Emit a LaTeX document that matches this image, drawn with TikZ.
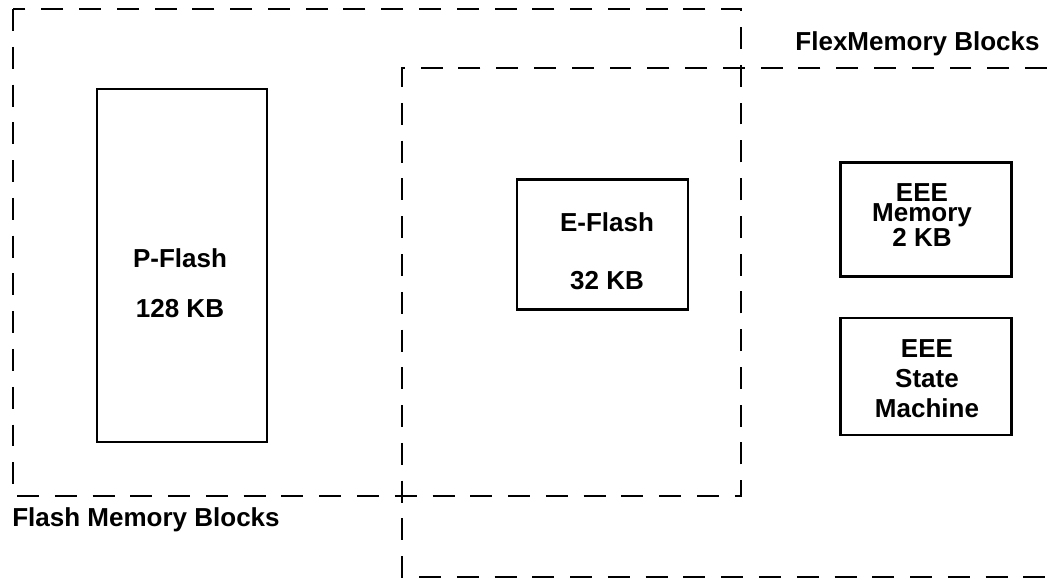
\documentclass[tikz,border=0pt]{standalone}
\usepackage{fontspec}
\setmainfont{Liberation Sans}
\usetikzlibrary{positioning}

\begin{document}
\begin{tikzpicture}[
    x=0.02cm, y=-0.02cm,
    region/.style={line width=1.1pt, dash pattern=on 12.5pt off 9pt},
    box/.style={rectangle, draw, line width=1.2pt, inner sep=0pt},
    txt/.style={align=center, inner sep=0pt, font=\bfseries\fontsize{14.8}{17}\selectfont}
]
\useasboundingbox (0,0) rectangle (1047,579);

% memory regions
\draw[region] (13,9) rectangle (741,496);
\draw[region] (1047,68) -- (402,68) -- (402,577) -- (1047,577);

\node[txt, anchor=east] (flexlbl) at (1040,44) {FlexMemory Blocks};
\node[txt, anchor=west] (flashlbl) at (12,520) {Flash Memory Blocks};

% blocks
\node[box, minimum width=3.4cm, minimum height=7.06cm] (pflash) at (182,265.5) {};
\node[box, minimum width=3.42cm, minimum height=2.6cm] (eflash) at (602.5,244.5) {};
\node[box, minimum width=3.42cm, minimum height=2.28cm] (eeemem) at (926,219.5) {};
\node[box, minimum width=3.42cm, minimum height=2.34cm] (eeesm) at (926,376.5) {};

\node[txt] (pflashtxt) at (180,283) {P-Flash\\[11.5pt]128 KB};
\node[txt] (eflashtxt) at (607,251) {E-Flash\\[16pt]32 KB};
\node[txt] (eeememtxt) at (922,215) {EEE\\[-5.5pt]Memory\\[-2.8pt]2 KB};
\node[txt] (eeesmtxt) at (927,379) {EEE\\State\\Machine};

\end{tikzpicture}
\end{document}
